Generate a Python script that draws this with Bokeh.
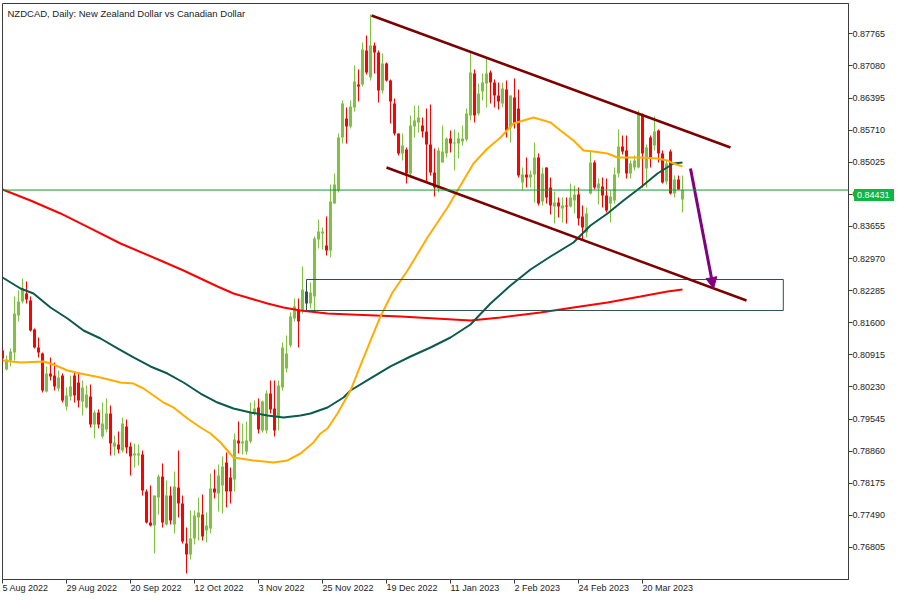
from bokeh.plotting import figure
from bokeh.models import (ColumnDataSource, FixedTicker, Range1d, Span, Label, Div,
                          Arrow, NormalHead, PrintfTickFormatter)
from bokeh.embed import file_html
from bokeh.resources import INLINE

# ---------------- data (NZDCAD daily, 5 Aug 2022 .. 3 Apr 2023) ----------------
opens = [
    .81007, .80602, .80794, .80964, .81754, .82053, .82223, .82074, .81455, .81071,
    .80943, .80132, .80516, .80473, .80196, .80473, .79812, .80025, .80473, .80324,
    .79919, .79791, .80025, .79428, .79684, .79172, .79321, .79663, .78958, .79001,
    .78873, .79385, .78958, .78766, .78766, .78788, .77998, .77336, .77272, .77870,
    .78318, .77294, .77912, .77294, .78084, .77742, .76888, .76654, .76995, .77443,
    .77507, .77166, .77208, .78062, .77955, .78126, .78617, .78297, .78254, .79086,
    .79022, .78852, .79065, .79663, .79791, .79300, .79300, .80089, .79770, .79577,
    .80217, .80623, .81114, .81690, .81882, .81861, .82266, .82010, .82159, .83375,
    .83504, .83248, .83141, .84144, .84421, .85553, .85958, .85787, .86193, .86683,
    .86683, .87409, .86833, .87516, .87366, .86555, .87132, .86769, .86278, .85638,
    .85211, .85296, .84784, .85787, .85873, .85808, .85681, .85403, .84806, .84464,
    .85019, .85211, .85531, .85424, .85424, .85467, .85510, .86022, .86918, .86065,
    .86534, .86705, .86940, .86726, .86448, .86278, .86577, .85766, .86406, .86171,
    .84592, .84763, .84699, .84763, .85126, .84187, .84912, .84485, .84080, .84165,
    .84037, .84101, .84080, .84208, .84336, .83867, .83525, .84357, .85019, .84464,
    .84507, .84315, .84144, .84208, .84784, .85360, .85275, .84784, .84912, .84912,
    .86044, .84891, .85553, .85382, .85702, .85211, .84614, .85254, .84357, .84656,
    .84229]
highs = [
    .81050, .80900, .81050, .82159, .82287, .82543, .82480, .82159, .81477, .81284,
    .80964, .80666, .80858, .80751, .80580, .80516, .80217, .80473, .80537, .80516,
    .80367, .80260, .80281, .79727, .79748, .79897, .79983, .79834, .79193, .79279,
    .79577, .79534, .79044, .79022, .79001, .78873, .78041, .78126, .77912, .78361,
    .78596, .78233, .78105, .78425, .78873, .77912, .77230, .77593, .77593, .77870,
    .77934, .77550, .78382, .78468, .78574, .78745, .78830, .78510, .79236, .79492,
    .79449, .79492, .79897, .79940, .79983, .79940, .80153, .80367, .80367, .80367,
    .81178, .81327, .81818, .82117, .82117, .82800, .82437, .82458, .83439, .83803,
    .83632, .83867, .84550, .84784, .85638, .86342, .86193, .86342, .87089, .87004,
    .87580, .87729, .88177, .87580, .87409, .87345, .87153, .86790, .86385, .85638,
    .85638, .85339, .86022, .86235, .86235, .85979, .86171, .86257, .85318, .85339,
    .85808, .85553, .85702, .85723, .85659, .85808, .86171, .87366, .87004, .86705,
    .86918, .87260, .86982, .86790, .86726, .86726, .86769, .86448, .86812, .86577,
    .84912, .85126, .84848, .85446, .85211, .84912, .84912, .84699, .84400, .84272,
    .84272, .84272, .84571, .84528, .84485, .84101, .84059, .85275, .85062, .84678,
    .84699, .84678, .84421, .84912, .85723, .85595, .85595, .85062, .85168, .86129,
    .86065, .85403, .85595, .86001, .85723, .85275, .85062, .85296, .84741, .84741,
    .84741]
lows = [
    .80751, .80580, .80666, .80794, .81626, .82010, .82010, .81413, .81050, .80858,
    .80110, .80110, .80367, .80153, .80132, .79897, .79727, .79940, .79897, .79791,
    .79620, .79770, .79364, .79129, .79343, .79129, .79257, .78766, .78766, .78809,
    .78830, .78809, .78339, .78510, .78553, .77912, .77315, .77251, .76675, .77507,
    .77230, .77272, .77294, .77102, .77443, .76888, .76248, .76547, .76867, .76952,
    .76952, .76910, .77102, .77849, .77571, .77529, .77657, .77742, .77998, .78809,
    .78788, .78788, .79022, .79620, .79236, .79257, .79236, .79663, .79172, .79300,
    .80153, .80537, .81071, .81626, .81071, .81797, .82010, .81904, .81861, .83184,
    .83162, .83034, .82992, .84144, .84379, .85424, .85424, .85744, .86107, .86321,
    .86641, .86897, .86769, .86918, .86299, .86491, .86747, .85851, .85595, .85168,
    .85062, .84571, .84699, .85553, .85659, .85553, .84592, .84741, .84293, .84379,
    .85019, .85126, .85232, .84848, .85104, .85382, .85467, .85915, .85873, .86022,
    .86342, .86193, .86278, .86193, .86150, .86193, .85553, .85446, .85744, .84699,
    .84421, .84485, .84485, .84165, .84101, .84101, .84144, .83909, .83717, .83845,
    .83739, .83717, .84059, .83931, .83675, .83354, .83419, .84336, .84443, .84123,
    .84059, .83952, .83739, .84144, .84699, .85190, .84678, .84678, .84848, .84891,
    .84485, .84485, .84912, .85275, .85019, .84571, .84550, .84336, .84272, .84443,
    .83952]
closes = [
    .80836, .80815, .80986, .81797, .82053, .82330, .82095, .81434, .81071, .80964,
    .80153, .80516, .80452, .80238, .80431, .79940, .80046, .80238, .80046, .79940,
    .80217, .80068, .79428, .79684, .79428, .79449, .79663, .79022, .79044, .78894,
    .79449, .78937, .78745, .78809, .78809, .78019, .77336, .77272, .77912, .78318,
    .77336, .77912, .77379, .78105, .77742, .76931, .76654, .76995, .77486, .77550,
    .77038, .77272, .78062, .77977, .78339, .78532, .77998, .77998, .79108, .79022,
    .79065, .79086, .79684, .79770, .79321, .79919, .80089, .79748, .79300, .80260,
    .81071, .80943, .81733, .81946, .81626, .82308, .82010, .82244, .83397, .83547,
    .83547, .83141, .84187, .84550, .85553, .86278, .85787, .86214, .86747, .86641,
    .87430, .86940, .87516, .87366, .86555, .87132, .86769, .86321, .85638, .85211,
    .85382, .84784, .85808, .85915, .85979, .85681, .85403, .84806, .84485, .85275,
    .85254, .85531, .85424, .85446, .85531, .85531, .86065, .86940, .86022, .86491,
    .86726, .86918, .86726, .86448, .86321, .86598, .85702, .86448, .85851, .84741,
    .84763, .84699, .84763, .85126, .84144, .84784, .84272, .84101, .84165, .84080,
    .84101, .84080, .84272, .84336, .83824, .83632, .83931, .85019, .84485, .84571,
    .84315, .83995, .84293, .84763, .85360, .85254, .84784, .84997, .85062, .86065,
    .85211, .85339, .85126, .85681, .85211, .84592, .84997, .84357, .84656, .84443,
    .84431]

# moving averages (bar index, value)
ma_fast_idx = [0, 4.5, 10.25, 12.75, 16.25, 19.5, 24.5, 29.5, 32.75, 35.25, 37.75, 40.25,
               42.75, 46.25, 49.5, 52, 54.5, 57.75, 62.75, 67.75, 71.25, 74.5, 77.75, 79.5,
               81.25, 83.75, 87, 89.5, 92, 94.5, 97.5, 101.25, 106.25, 111.25, 113.75,
               117.75, 121.25, 124.5, 127.75, 132.75, 137, 139.5, 142.75, 145.25, 147.75,
               151.25, 153.75, 159.5, 163.75, 166.25, 167.75, 170]
ma_fast_val = [.80794, .80751, .80772, .80708, .80580, .80516, .80431, .80324, .80302, .80196,
               .80046, .79897, .79791, .79556, .79364, .79236, .79044, .78724, .78660, .78617,
               .78660, .78809, .79044, .79236, .79343, .79663, .80153, .80687, .81220, .81733,
               .82244, .82714, .83419, .84059, .84421, .84997, .85318, .85553, .85851, .85979,
               .85873, .85702, .85488, .85275, .85254, .85211, .85126, .85126, .85104, .85062,
               .84997, .84933]
ma_mid_idx = [0, 4.5, 7.75, 12, 16.25, 20.25, 24.5, 28.75, 32.75, 37, 41.25, 45.25, 49.5,
              53.75, 57.75, 62, 66.25, 70.25, 74.5, 77, 81.25, 85.25, 87, 92, 97, 102, 107,
              112, 117, 122, 127, 132, 137, 142.75, 147, 151.25, 155.25, 159.5, 163.75,
              167.75, 170]
ma_mid_val = [.82565, .82330, .82223, .81925, .81690, .81434, .81263, .81050, .80858, .80666,
              .80516, .80324, .80089, .79897, .79770, .79684, .79620, .79577, .79620, .79663,
              .79791, .80004, .80153, .80410, .80666, .80879, .81071, .81284, .81562, .82010,
              .82394, .82736, .83013, .83312, .83675, .83931, .84208, .84485, .84784, .84997,
              .85019]
ma_slow_idx = [0, 7, 14.5, 22, 29.5, 39.5, 45.25, 49.5, 53.75, 57.75, 62, 66.25, 70.25, 74.5,
               81.25, 87, 99.5, 117, 124.5, 134.5, 142.75, 151.25, 159.5, 166.25, 170]
ma_slow_val = [.84443, .84208, .83931, .83611, .83290, .82928, .82714, .82543, .82373, .82223,
               .82117, .82010, .81925, .81861, .81797, .81776, .81733, .81647, .81711, .81818,
               .81925, .82031, .82159, .82266, .82308]

# drawn objects (bar index / price)
channel_upper_idx = [92.25, 182]
channel_upper_val = [.88156, .85339]
channel_lower_idx = [96, 186]
channel_lower_val = [.84912, .82074]
zone_idx = [76, 195.2]
zone_val = [.81861, .82522]
arrow_idx = [172, 177.75]
arrow_val = [.84891, .82330]
bid_price = 0.84431

x_tick_idx = [0, 16, 32, 48, 64, 80, 96, 112, 128, 144, 160]
x_tick_labels = ["5 Aug 2022", "29 Aug 2022", "20 Sep 2022", "12 Oct 2022", "3 Nov 2022",
                 "25 Nov 2022", "19 Dec 2022", "11 Jan 2023", "2 Feb 2023", "24 Feb 2023",
                 "20 Mar 2023"]
y_ticks = [0.76805, 0.77490, 0.78175, 0.78860, 0.79545, 0.80230, 0.80915, 0.81600, 0.82285,
           0.82970, 0.83655, 0.84340, 0.85025, 0.85710, 0.86395, 0.87080, 0.87765]

# ---------------- figure ----------------
n = len(opens)
assert len(highs) == n and len(lows) == n and len(closes) == n

UP = "#7fc241"
DOWN = "#ff0000"
FONT = "Liberation Sans"
TXT = "#222222"
FRAME = "#3c3c3c"
BID = "#0db840"

idx = list(range(n))
colors = [UP if c >= o else DOWN for o, c in zip(opens, closes)]
tops = [max(o, c) for o, c in zip(opens, closes)]
bots = [min(o, c) for o, c in zip(opens, closes)]
bots = [b if t - b > 0.00022 else t - 0.00022 for t, b in zip(tops, bots)]

src = ColumnDataSource(dict(x=idx, o=opens, h=highs, l=lows, c=closes,
                            top=tops, bot=bots, color=colors))

FRAME_H = 576
y_lo, y_hi = 0.76120, 0.88412

p = figure(frame_width=846, frame_height=FRAME_H,
           x_range=Range1d(0, 211.5), y_range=Range1d(y_lo, y_hi),
           y_axis_location="right", output_backend="svg", toolbar_location=None,
           min_border_left=2, min_border_top=3, min_border_right=10, min_border_bottom=18,
           background_fill_color="white", border_fill_color="white",
           outline_line_color=FRAME, outline_line_width=1)
p.grid.visible = False

# axes
p.xaxis.ticker = FixedTicker(ticks=x_tick_idx)
p.xaxis.major_label_overrides = {t: s for t, s in zip(x_tick_idx, x_tick_labels)}
p.xaxis.major_label_orientation = -0.0001   # hangs labels to the right of their tick
p.yaxis.ticker = FixedTicker(ticks=y_ticks)
p.yaxis.formatter = PrintfTickFormatter(format="%.5f")
for ax in (p.xaxis[0], p.yaxis[0]):
    ax.axis_line_color = FRAME
    ax.major_tick_line_color = FRAME
    ax.major_tick_out = 4
    ax.major_tick_in = 0
    ax.minor_tick_line_color = None
    ax.major_label_text_font = FONT
    ax.major_label_text_font_size = "9px"
    ax.major_label_text_color = TXT
    ax.major_label_standoff = 0
p.xaxis.major_label_standoff = 4

# candles
p.segment(x0="x", x1="x", y0="l", y1="h", line_color="color", line_width=1, source=src)
p.vbar(x="x", width=0.75, top="top", bottom="bot", fill_color="color", line_color=None,
       source=src)

# moving averages
p.line(ma_slow_idx, ma_slow_val, line_color="#ff0000", line_width=2)
p.line(ma_mid_idx, ma_mid_val, line_color="#0b5a4a", line_width=2)
p.line(ma_fast_idx, ma_fast_val, line_color="#ffad00", line_width=2)

# zone rectangle
p.quad(left=[zone_idx[0]], right=[zone_idx[1]], bottom=[zone_val[0]], top=[zone_val[1]],
       fill_color=None, line_color="#2f4f4f", line_width=1)

# channel
p.line(channel_upper_idx, channel_upper_val, line_color="#7b0000", line_width=2.5)
p.line(channel_lower_idx, channel_lower_val, line_color="#7b0000", line_width=2.5)

# arrow
p.add_layout(Arrow(x_start=arrow_idx[0], y_start=arrow_val[0], x_end=arrow_idx[1],
                   y_end=arrow_val[1], line_color="#800080", line_width=3,
                   end=NormalHead(size=11, fill_color="#800080", line_color="#800080")))

# bid line
p.add_layout(Span(location=bid_price, dimension="width", line_color="#109a36", line_width=1))

# title
p.add_layout(Label(x=5, y=FRAME_H - 4, x_units="screen", y_units="screen",
                   text="NZDCAD, Daily:  New Zealand Dollar vs Canadian Dollar",
                   text_font=FONT, text_font_size="9.5px", text_color=TXT,
                   text_baseline="top", text_align="left"))

# bid price badge on the price scale (placed over the axis, at the bid level)
bid_top_px = 3 + (y_hi - bid_price) / (y_hi - y_lo) * FRAME_H - 6
badge = Div(text=f"{bid_price:.5f}", width=40, height=12,
            styles={"position": "absolute", "left": "849px", "top": f"{bid_top_px:.1f}px",
                    "background-color": BID, "color": "white",
                    "font-family": FONT, "font-size": "9px", "line-height": "12px",
                    "padding-left": "3px", "box-sizing": "border-box",
                    "overflow": "hidden", "z-index": "10"})

open("out.html", "w").write(file_html([p, badge], INLINE))
